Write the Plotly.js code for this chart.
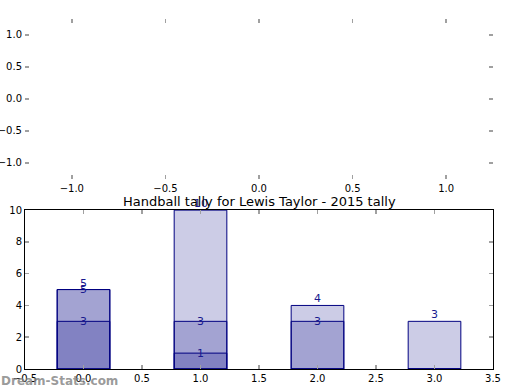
<!DOCTYPE html>
<html>
<head>
<meta charset="utf-8">
<script src="https://cdn.plot.ly/plotly-3.0.1.min.js"></script>
<style>html,body{margin:0;padding:0;background:#fff;}#chart{width:520px;height:390px;}</style>
</head>
<body>
<div id="chart"></div>
<script>
// Data
const categories = [0, 1, 2, 3];
const seriesA = [3, 1, 0, 0];
const seriesB = [5, 3, 3, 0];
const seriesC = [5, 10, 4, 3];
const xTicks = [-0.5, 0, 0.5, 1, 1.5, 2, 2.5, 3, 3.5];
const xTickText = ['−0.5', '0.0', '0.5', '1.0', '1.5', '2.0', '2.5', '3.0', '3.5'];
const yTicks = [0, 2, 4, 6, 8, 10];
const emptyTicks = [-1, -0.5, 0, 0.5, 1];
const emptyTickText = ['−1.0', '−0.5', '0.0', '0.5', '1.0'];
const chartTitle = 'Handball tally for Lewis Taylor - 2015 tally';
const watermark = 'Dream-Stats.com';

const FONT = 'DejaVu Sans, sans-serif';
const fill = 'rgba(0,0,128,0.2)';
const edge = 'rgb(0,0,128)';
const series = [seriesA, seriesB, seriesC];

const traces = series.map(function (s) {
  return {
    type: 'bar', x: categories, y: s, width: 0.45,
    xaxis: 'x2', yaxis: 'y2',
    marker: {color: fill, line: {color: edge, width: 1}},
    hoverinfo: 'skip', showlegend: false
  };
});
// invisible trace to instantiate the empty top axes
traces.push({type: 'scatter', mode: 'markers', x: [0], y: [0], xaxis: 'x', yaxis: 'y',
  marker: {opacity: 0}, showlegend: false, hoverinfo: 'skip'});

const annotations = [];
series.forEach(function (s, i) {
  s.forEach(function (v, j) {
    if (v === 0) return;
    annotations.push({
      x: categories[j], y: v, xref: 'x2', yref: 'y2', text: String(v),
      showarrow: false, yanchor: i < 2 ? 'middle' : 'bottom',
      yshift: i < 2 ? 0 : -2,
      font: {family: FONT, size: 11, color: '#1a1a8f'}
    });
  });
});
annotations.push({
  text: chartTitle, xref: 'paper', yref: 'paper', x: 0.5, y: 0.454,
  xanchor: 'center', yanchor: 'bottom', yshift: -1, showarrow: false,
  font: {family: FONT, size: 13, color: '#000'}
});
annotations.push({
  text: '<b>' + watermark + '</b>', xref: 'paper', yref: 'paper',
  x: -25 / 468, y: 0, xanchor: 'left', yanchor: 'top', yshift: -3, xshift: -1,
  showarrow: false, font: {family: FONT, size: 12, color: 'rgba(128,128,128,0.8)'}
});

const tickCommon = {
  ticks: 'inside', ticklen: 4, tickwidth: 1.5, tickcolor: '#a0a0a0',
  showgrid: false, zeroline: false, tickfont: {family: FONT, size: 10, color: '#000'}
};

const layout = {
  width: 520, height: 390,
  margin: {l: 25, r: 27, t: 19, b: 21, pad: 0},
  paper_bgcolor: '#fff', plot_bgcolor: 'rgba(0,0,0,0)',
  barmode: 'overlay', bargap: 0,
  showlegend: false,
  xaxis: Object.assign({}, tickCommon, {
    domain: [0, 1], anchor: 'y', range: [-1.25, 1.25],
    tickvals: emptyTicks, ticktext: emptyTickText,
    showline: true, linecolor: '#ffffff', linewidth: 1, mirror: 'allticks'
  }),
  yaxis: Object.assign({}, tickCommon, {
    domain: [0.543, 1], anchor: 'x', range: [-1.25, 1.25],
    tickvals: emptyTicks, ticktext: emptyTickText,
    showline: true, linecolor: '#ffffff', linewidth: 1, mirror: 'allticks'
  }),
  xaxis2: Object.assign({}, tickCommon, {
    domain: [0, 1], anchor: 'y2', range: [-0.5, 3.5],
    tickvals: xTicks, ticktext: xTickText,
    showline: true, linecolor: '#000', linewidth: 1, mirror: 'allticks'
  }),
  yaxis2: Object.assign({}, tickCommon, {
    domain: [0, 0.454], anchor: 'x2', range: [0, 10],
    tickvals: yTicks, ticktext: yTicks.map(String),
    showline: true, linecolor: '#000', linewidth: 1, mirror: 'allticks'
  }),
  annotations: annotations
};

Plotly.newPlot('chart', traces, layout, {staticPlot: true, displayModeBar: false});
</script>
</body>
</html>
